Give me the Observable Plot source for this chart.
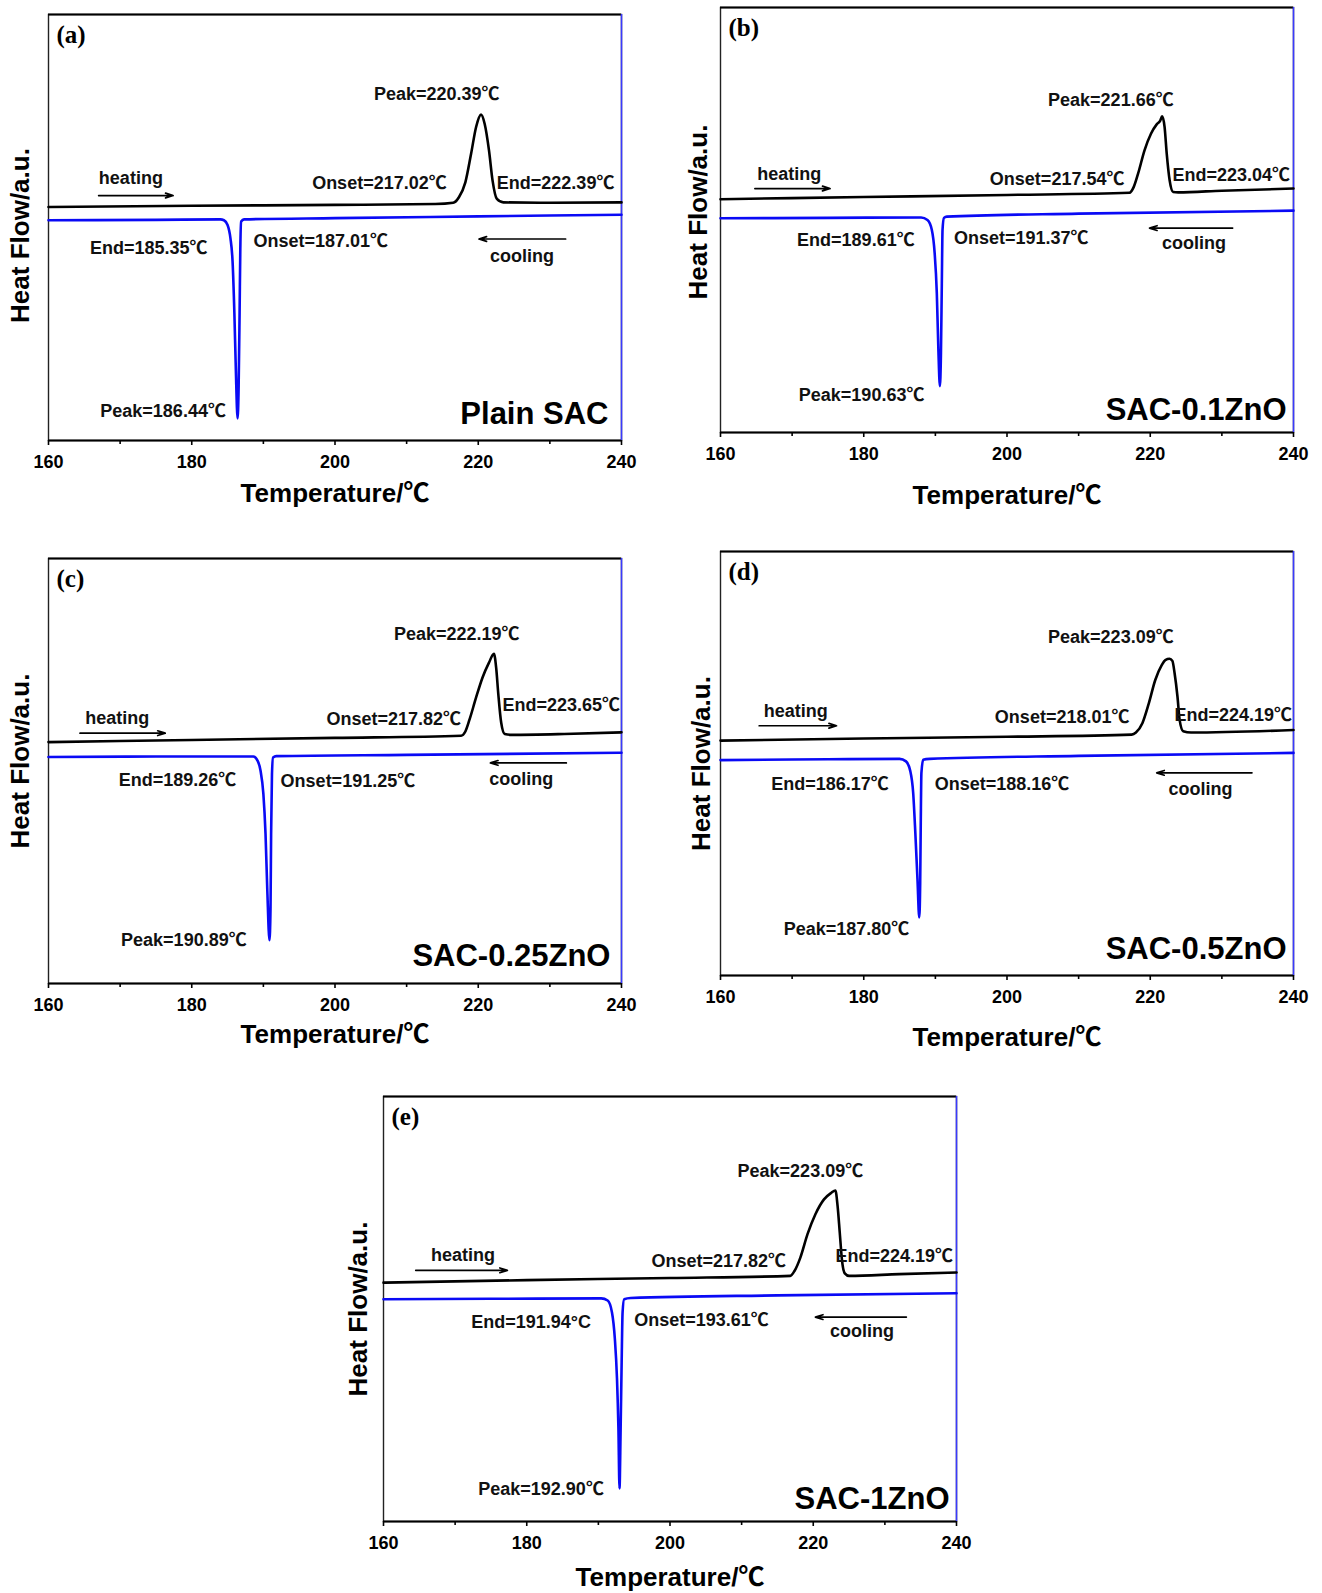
<!DOCTYPE html>
<html><head><meta charset="utf-8">
<script src="https://cdn.jsdelivr.net/npm/d3@7"></script>
<script src="https://cdn.jsdelivr.net/npm/@observablehq/plot@0.6"></script>
<style>
html,body{margin:0;padding:0;background:#fff;}
#root{position:relative;width:1322px;height:1593px;overflow:hidden;background:#fff;}
.panel{position:absolute;}
</style></head><body><div id="root"></div>
<script>
// ---------- shared axis values ----------
const tempDomain = [160, 240];
const flowDomain = [0, 100];           // heat flow, arbitrary units
const tempTicks = [160, 180, 200, 220, 240];
const minorTicks = [170, 190, 210, 230];
const xTitle = "Temperature/℃";
const yTitle = "Heat Flow/a.u.";
const heatWord = "heating";
const coolWord = "cooling";

// ---------- (a) Plain SAC ----------
const heatingA = [[160,54.8],[180,55.1],[200,55.3],[214,55.5],[216.5,55.8],[217.3,57.1],[218.2,60.6],[219.0,67.3],[219.7,73.6],[220.39,76.5],[220.9,74.3],[221.5,68.1],[222.0,61.0],[222.6,56.7],[223.5,55.9],[230,55.8],[240,55.9]];
const coolingA = [[160,51.7],[175,51.8],[184.0,51.9],[184.5,51.7],[185.0,50.6],[185.4,47.5],[185.7,42],[185.95,30],[186.15,17],[186.4,5.2],[186.55,13],[186.68,30],[186.78,45],[186.9,51.4],[187.3,51.9],[200,52.2],[220,52.6],[240,53.0]];
const notesA = [
  {t:"Peak=220.39℃", x:214.2, y:81.3}, {t:"Onset=217.02℃", x:206.2, y:60.4}, {t:"End=222.39℃", x:230.8, y:60.4},
  {t:"End=185.35℃", x:174.0, y:45.1}, {t:"Onset=187.01℃", x:198.0, y:46.7}, {t:"Peak=186.44℃", x:176.0, y:6.9},
  {t:heatWord, x:171.5, y:61.5}, {t:coolWord, x:226.1, y:43.3}
];
const arrowsA = [{x1:167.0,y1:57.5,x2:177.4,y2:57.5},{x1:232.2,y1:47.3,x2:220.1,y2:47.3}];

// ---------- (b) SAC-0.1ZnO ----------
const heatingB = [[160,54.9],[180,55.4],[200,55.9],[217.1,56.4],[217.7,57.8],[218.3,60.9],[219.2,66.4],[220.1,70.3],[220.9,72.5],[221.4,73.4],[221.66,74.4],[222.0,71.9],[222.3,65.6],[222.7,59.4],[223.2,56.6],[223.9,56.5],[230,56.9],[240,57.4]];
const coolingB = [[160,50.4],[175,50.5],[188.0,50.6],[188.9,50.0],[189.5,47.7],[189.9,42.2],[190.2,32.8],[190.42,19.5],[190.63,10.9],[190.78,18.8],[190.9,35],[191.0,47.7],[191.2,50.5],[191.6,50.8],[210,51.5],[240,52.2]];
const notesB = [
  {t:"Peak=221.66℃", x:214.5, y:78.1}, {t:"Onset=217.54℃", x:207.0, y:59.5}, {t:"End=223.04℃", x:231.3, y:60.5},
  {t:"End=189.61℃", x:178.9, y:45.3}, {t:"Onset=191.37℃", x:202.0, y:45.7}, {t:"Peak=190.63℃", x:179.7, y:8.7},
  {t:heatWord, x:169.6, y:60.8}, {t:coolWord, x:226.1, y:44.5}
];
const arrowsB = [{x1:164.8,y1:57.4,x2:175.3,y2:57.4},{x1:231.5,y1:48.1,x2:219.9,y2:48.1}];

// ---------- (c) SAC-0.25ZnO ----------
const heatingC = [[160,56.8],[180,57.3],[200,57.8],[217.6,58.3],[218.2,59.3],[218.8,62.2],[219.7,67.3],[220.6,72.0],[221.5,75.5],[222.19,77.6],[222.5,74.3],[222.8,68.1],[223.2,61.4],[223.7,58.7],[224.7,58.5],[232,58.7],[240,59.1]];
const coolingC = [[160,53.3],[175,53.4],[188.6,53.4],[189.2,52.4],[189.6,50.1],[190.0,44.6],[190.3,35.2],[190.55,21.9],[190.85,10.2],[191.0,18],[191.08,35.2],[191.2,49.3],[191.35,53.2],[191.8,53.5],[210,53.8],[240,54.3]];
const notesC = [
  {t:"Peak=222.19℃", x:217.0, y:82.1}, {t:"Onset=217.82℃", x:208.2, y:62.2}, {t:"End=223.65℃", x:231.6, y:65.5},
  {t:"End=189.26℃", x:178.0, y:47.8}, {t:"Onset=191.25℃", x:201.8, y:47.6}, {t:"Peak=190.89℃", x:178.9, y:10.1},
  {t:heatWord, x:169.6, y:62.4}, {t:coolWord, x:226.0, y:48.1}
];
const arrowsC = [{x1:164.4,y1:58.9,x2:176.3,y2:58.9},{x1:232.3,y1:51.9,x2:221.7,y2:51.9}];

// ---------- (d) SAC-0.5ZnO ----------
const heatingD = [[160,55.4],[180,55.9],[200,56.3],[217.4,56.8],[218.0,57.3],[218.9,59.5],[219.8,64.2],[220.7,69.7],[221.6,73.2],[222.1,74.4],[222.7,74.7],[223.09,74.2],[223.4,71.3],[223.8,65.8],[224.1,60.3],[224.6,57.6],[225.7,57.3],[240,57.9]];
const coolingD = [[160,50.8],[175,51.0],[185.0,51.1],[185.9,50.5],[186.5,48.2],[186.9,43.1],[187.2,33.7],[187.5,22.7],[187.75,13.7],[187.88,21.9],[187.96,36],[188.05,47.8],[188.3,50.9],[189.2,51.1],[210,51.8],[240,52.5]];
const notesD = [
  {t:"Peak=223.09℃", x:214.5, y:79.7}, {t:"Onset=218.01℃", x:207.7, y:60.8}, {t:"End=224.19℃", x:231.6, y:61.5},
  {t:"End=186.17℃", x:175.3, y:45.2}, {t:"Onset=188.16℃", x:199.3, y:45.2}, {t:"Peak=187.80℃", x:177.6, y:10.8},
  {t:heatWord, x:170.5, y:62.4}, {t:coolWord, x:227.0, y:44.0}
];
const arrowsD = [{x1:165.4,y1:58.9,x2:176.2,y2:58.9},{x1:234.2,y1:47.8,x2:220.9,y2:47.8}];

// ---------- (e) SAC-1ZnO ----------
const heatingE = [[160,56.2],[180,56.8],[200,57.3],[216.8,57.8],[217.4,59.0],[218.2,62.1],[219.2,67.6],[220.3,72.3],[221.5,75.8],[222.5,77.3],[223.09,77.9],[223.4,74.2],[223.7,68.0],[224.0,61.7],[224.4,58.4],[225.0,57.8],[232,58.2],[240,58.6]];
const coolingE = [[160,52.3],[175,52.4],[190.4,52.5],[191.3,52.0],[191.9,49.2],[192.3,43.0],[192.6,33.6],[192.8,21.9],[192.95,7.8],[193.1,21],[193.25,37.5],[193.38,49.2],[193.6,52.3],[194.5,52.6],[215,53.2],[240,53.7]];
const notesE = [
  {t:"Peak=223.09℃", x:218.2, y:82.5}, {t:"Onset=217.82℃", x:206.8, y:61.2}, {t:"End=224.19℃", x:231.3, y:62.4},
  {t:"End=191.94°C", x:180.6, y:46.9}, {t:"Onset=193.61℃", x:204.4, y:47.4}, {t:"Peak=192.90℃", x:182.0, y:7.7},
  {t:heatWord, x:171.1, y:62.7}, {t:coolWord, x:226.8, y:44.7}
];
const arrowsE = [{x1:164.5,y1:59.1,x2:177.3,y2:59.1},{x1:233.0,y1:48.1,x2:220.3,y2:48.1}];

// ---------- panel layout (page pixels) ----------
const panels = [
  {tag:"(a)", sample:"Plain SAC",   heating:heatingA, cooling:coolingA, notes:notesA, arrows:arrowsA, box:[48,14,621,440],   xt:53, ytx:-28, yty:8,   sdx:-13, sdy:-26},
  {tag:"(b)", sample:"SAC-0.1ZnO",  heating:heatingB, cooling:coolingB, notes:notesB, arrows:arrowsB, box:[720,7,1293,432],  xt:63, ytx:-22, yty:-8,  sdx:-7,  sdy:-22},
  {tag:"(c)", sample:"SAC-0.25ZnO", heating:heatingC, cooling:coolingC, notes:notesC, arrows:arrowsC, box:[48,558,621,983],  xt:51, ytx:-28, yty:-10, sdx:-11, sdy:-27},
  {tag:"(d)", sample:"SAC-0.5ZnO",  heating:heatingD, cooling:coolingD, notes:notesD, arrows:arrowsD, box:[720,551,1293,975], xt:62, ytx:-19, yty:0,   sdx:-7,  sdy:-26},
  {tag:"(e)", sample:"SAC-1ZnO",    heating:heatingE, cooling:coolingE, notes:notesE, arrows:arrowsE, box:[383,1096,956,1521], xt:56, ytx:-25, yty:0,  sdx:-7,  sdy:-22}
];

const SANS = '"Liberation Sans", Arial, "Noto Sans CJK SC", sans-serif';
const SERIF = '"Liberation Serif", "Times New Roman", serif';
const BLUE = "#0a0af5";
const mL = 62, mT = 14, mR = 28, mB = 80;

const root = document.getElementById("root");
for (const p of panels) {
  const [L, T, R, B] = p.box;
  const W = (R - L) + mL + mR, H = (B - T) + mT + mB;
  const chart = Plot.plot({
    width: W, height: H,
    marginLeft: mL, marginRight: mR, marginTop: mT, marginBottom: mB,
    style: {fontFamily: SANS, fontWeight: "bold", color: "#000", background: "transparent", overflow: "visible"},
    x: {domain: tempDomain},
    y: {domain: flowDomain, axis: null},
    marks: [
      Plot.frame({stroke: "#222", strokeWidth: 1.4}),
      Plot.ruleY([flowDomain[1]], {stroke: "#000", strokeWidth: 2.2}),
      Plot.ruleY([flowDomain[0]], {stroke: "#000", strokeWidth: 2}),
      Plot.ruleX([tempDomain[1]], {stroke: "#3a3aff", strokeWidth: 1.5}),
      Plot.axisX({ticks: tempTicks, tickSize: 5, tickPadding: 10, fontSize: 18, fontWeight: "bold", label: null, tickFormat: d => String(d), strokeWidth: 1.6}),
      Plot.axisX({ticks: minorTicks, tickSize: 4, tickFormat: () => "", label: null, strokeWidth: 1.6}),
      Plot.line(p.heating, {x: d => d[0], y: d => d[1], stroke: "#000", strokeWidth: 2.6, curve: "monotone-x"}),
      Plot.line(p.cooling, {x: d => d[0], y: d => d[1], stroke: BLUE, strokeWidth: 2.6, curve: "monotone-x"}),
      Plot.arrow(p.arrows, {x1: "x1", y1: "y1", x2: "x2", y2: "y2", stroke: "#000", strokeWidth: 1.7, headLength: 7, headAngle: 35}),
      Plot.text(p.notes, {x: "x", y: "y", text: "t", fontSize: 18, fontWeight: "bold", fill: "#111"}),
      Plot.text([p.tag], {x: () => tempDomain[0], y: () => flowDomain[1], text: d => d, dx: 8, dy: 20, textAnchor: "start", fontFamily: SERIF, fontSize: 25, fontWeight: "bold"}),
      Plot.text([p.sample], {frameAnchor: "bottom-right", text: d => d, dx: p.sdx, dy: p.sdy, textAnchor: "end", lineAnchor: "middle", fontSize: 31, fontWeight: "bold"}),
      Plot.text([xTitle], {frameAnchor: "bottom", text: d => d, dy: p.xt, textAnchor: "middle", lineAnchor: "middle", fontSize: 26, fontWeight: "bold"}),
      Plot.text([yTitle], {frameAnchor: "left", text: d => d, dx: p.ytx, dy: p.yty, rotate: -90, textAnchor: "middle", lineAnchor: "middle", fontSize: 26, fontWeight: "bold"})
    ]
  });
  const div = document.createElement("div");
  div.className = "panel";
  div.style.left = (L - mL) + "px";
  div.style.top = (T - mT) + "px";
  div.appendChild(chart);
  root.appendChild(div);
}
</script></body></html>
